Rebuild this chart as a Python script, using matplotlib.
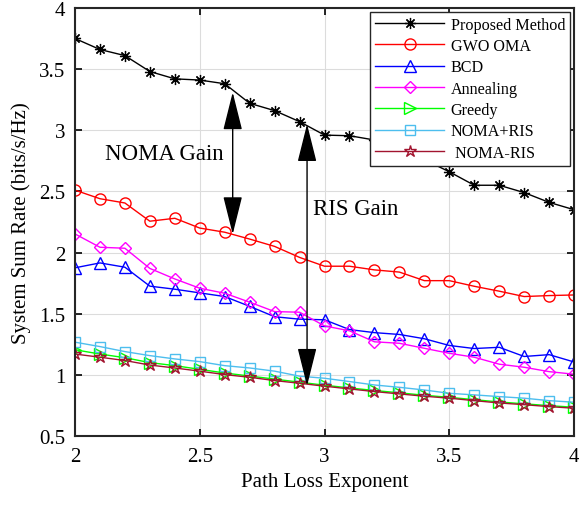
import matplotlib
matplotlib.use('Agg')
import matplotlib.pyplot as plt

plt.rcParams['font.family'] = ['Liberation Serif', 'DejaVu Serif']
plt.rcParams['mathtext.fontset'] = 'stix'

# path loss exponent
x = [2.0, 2.1, 2.2, 2.3, 2.4, 2.5, 2.6, 2.7, 2.8, 2.9, 3.0,
     3.1, 3.2, 3.3, 3.4, 3.5, 3.6, 3.7, 3.8, 3.9, 4.0]

proposed = [3.75, 3.66, 3.61, 3.48, 3.42, 3.41, 3.38, 3.22, 3.16, 3.07, 2.96,
            2.955, 2.92, 2.85, 2.76, 2.66, 2.55, 2.55, 2.49, 2.41, 2.35]
gwo_oma = [2.51, 2.44, 2.405, 2.256, 2.28, 2.20, 2.166, 2.11, 2.05, 1.96, 1.888,
           1.888, 1.858, 1.84, 1.77, 1.77, 1.724, 1.684, 1.64, 1.648, 1.653]
bcd = [1.875, 1.915, 1.88, 1.725, 1.70, 1.67, 1.64, 1.56, 1.475, 1.455, 1.45,
       1.37, 1.345, 1.33, 1.295, 1.24, 1.215, 1.225, 1.15, 1.165, 1.105]
annealing = [2.152, 2.043, 2.035, 1.87, 1.784, 1.708, 1.667, 1.594, 1.517, 1.512, 1.40,
             1.36, 1.27, 1.258, 1.217, 1.176, 1.144, 1.087, 1.062, 1.026, 1.005]
greedy = [1.205, 1.17, 1.14, 1.10, 1.075, 1.045, 1.015, 0.99, 0.965, 0.94, 0.915,
          0.893, 0.872, 0.853, 0.833, 0.816, 0.797, 0.778, 0.763, 0.748, 0.735]
noma_ris_plus = [1.267, 1.231, 1.19, 1.157, 1.13, 1.108, 1.075, 1.056, 1.03, 0.989, 0.972,
                 0.945, 0.917, 0.898, 0.876, 0.849, 0.836, 0.822, 0.809, 0.789, 0.776]
noma_ris_minus = [1.17, 1.144, 1.117, 1.08, 1.056, 1.03, 1.002, 0.98, 0.953, 0.931, 0.907,
                  0.885, 0.863, 0.844, 0.825, 0.809, 0.789, 0.77, 0.756, 0.74, 0.727]

fig = plt.figure(figsize=(5.79, 5.06), dpi=100)
ax = fig.add_axes([0.1295, 0.1364, 0.862, 0.846])

ms = 8
ax.plot(x, proposed, '-', color='black', lw=1, marker=(8, 2, 0), ms=8, mew=0.9,
        label='Proposed Method')
ax.plot(x, gwo_oma, '-', color='red', lw=1, marker='o', ms=ms, mfc='none', mew=1,
        label='GWO OMA')
ax.plot(x, bcd, '-', color='blue', lw=1, marker='^', ms=ms + 1, mfc='none', mew=1,
        label='BCD')
ax.plot(x, annealing, '-', color='magenta', lw=1, marker='D', ms=ms - 1.5, mfc='none',
        mew=1, label='Annealing')
ax.plot(x, greedy, '-', color='#00ff00', lw=1, marker='>', ms=ms, mfc='none', mew=1,
        label='Greedy')
ax.plot(x, noma_ris_plus, '-', color='#4DBEEE', lw=1, marker='s', ms=ms - 1.5,
        mfc='none', mew=1, label='NOMA+RIS')
ax.plot(x, noma_ris_minus, '-', color='#A2142F', lw=1, marker='*', ms=ms + 1,
        mfc='none', mew=1, label=' NOMA-RIS')

ax.set_xlim(2, 4)
ax.set_ylim(0.5, 4)
ax.set_xticks([2, 2.5, 3, 3.5, 4])
ax.set_xticklabels(['2', '2.5', '3', '3.5', '4'])
ax.set_yticks([0.5, 1, 1.5, 2, 2.5, 3, 3.5, 4])
ax.set_yticklabels(['0.5', '1', '1.5', '2', '2.5', '3', '3.5', '4'])
ax.grid(True, color='#dcdcdc', lw=0.8)
ax.tick_params(direction='in', top=True, right=True, labelsize=15, length=5, width=1.2)
ax.tick_params(axis='x', pad=8)
ax.tick_params(axis='y', pad=7)
for s in ax.spines.values():
    s.set_linewidth(1.5)
    s.set_color('#262626')
ax.set_xlabel('Path Loss Exponent', fontsize=15, labelpad=4)
ax.set_ylabel('System Sum Rate (bits/s/Hz)', fontsize=15, labelpad=6)

leg = ax.legend(loc='upper right', fontsize=11.6, fancybox=False, framealpha=1,
                edgecolor='#262626', borderaxespad=0.25, handlelength=4.3,
                labelspacing=0.33, borderpad=0.3, handletextpad=0.4)
leg.get_frame().set_linewidth(1)

arrow = dict(arrowstyle='<|-|>,head_length=0.8,head_width=0.2', color='black', lw=1,
             mutation_scale=30, shrinkA=0, shrinkB=0)
ax.annotate('', xy=(2.632, 3.31), xytext=(2.632, 2.15), arrowprops=arrow)
ax.annotate('', xy=(2.93, 3.05), xytext=(2.93, 0.91), arrowprops=arrow)
ax.text(2.12, 2.81, 'NOMA Gain', fontsize=16.5, va='center')
ax.text(2.955, 2.36, 'RIS Gain', fontsize=16.5, va='center')

fig.savefig('out.png', dpi=100)
